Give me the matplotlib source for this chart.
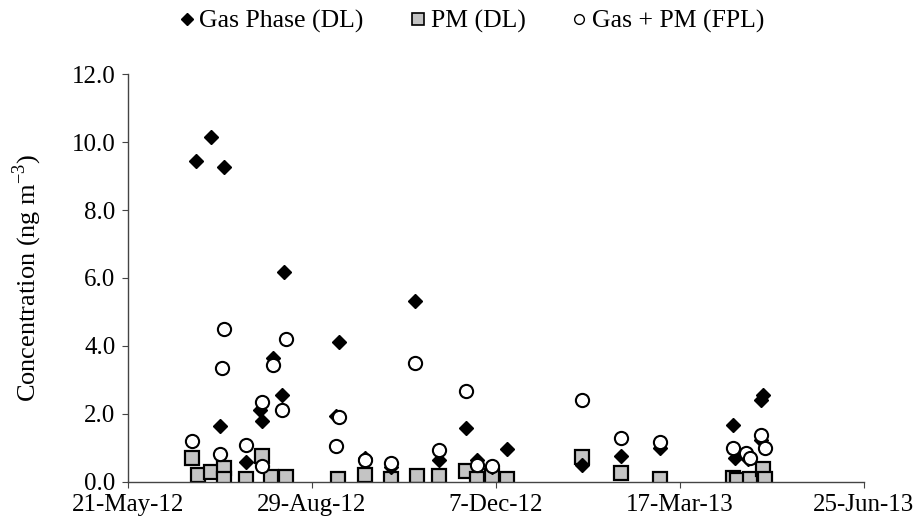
import numpy as np
import pandas as pd
import matplotlib
matplotlib.use('Agg')
import matplotlib.pyplot as plt
import matplotlib.dates as mdates
from matplotlib.ticker import FormatStrFormatter
from matplotlib.lines import Line2D

plt.rcParams.update({
    'font.family': ['Liberation Serif', 'DejaVu Serif'],
    'font.size': 18,
    'mathtext.fontset': 'custom',
    'mathtext.rm': 'Liberation Serif',
})

START = pd.Timestamp('2012-05-21')

# sampling day (days after 21-May-12) and concentration, ng m-3
GAS_DAY = [37, 45, 52, 50, 64, 72, 73, 79, 84, 85, 113, 115, 129, 143, 156,
           169, 184, 190, 198, 206, 247, 268, 289, 329, 330, 337, 344, 344, 345]
GAS_VAL = [9.45, 10.15, 9.28, 1.65, 0.60, 2.12, 1.78, 3.64, 2.56, 6.19, 1.94,
           4.13, 0.70, 0.45, 5.33, 0.65, 1.60, 0.65, 0.45, 0.97, 0.50, 0.75,
           1.00, 1.66, 0.70, 0.68, 1.24, 2.40, 2.55]

PM_DAY = [35, 38, 45, 52, 52, 64, 73, 78, 86, 114, 129, 143, 157, 169, 184,
          190, 198, 206, 247, 268, 289, 329, 331, 338, 345, 346]
PM_VAL = [0.70, 0.20, 0.28, 0.40, 0.10, 0.10, 0.75, 0.15, 0.15, 0.10, 0.20,
          0.09, 0.18, 0.18, 0.32, 0.10, 0.16, 0.10, 0.74, 0.27, 0.10, 0.12,
          0.05, 0.10, 0.37, 0.10]

TOT_DAY = [35, 50, 51, 52, 64, 73, 73, 79, 84, 86, 113, 115, 129, 143, 156,
           169, 184, 190, 198, 247, 268, 289, 329, 336, 338, 344, 346]
TOT_VAL = [1.19, 0.82, 3.35, 4.49, 1.09, 0.47, 2.36, 3.44, 2.12, 4.20, 1.06,
           1.92, 0.65, 0.55, 3.51, 0.94, 2.68, 0.50, 0.48, 2.41, 1.29, 1.16,
           0.99, 0.85, 0.70, 1.38, 0.99]

def to_dates(days):
    return START + pd.to_timedelta(days, unit='D')

fig = plt.figure(figsize=(9.2, 5.29), dpi=100)
ax = fig.add_axes([0.139, 0.089, 0.800, 0.771])

ax.plot(to_dates(PM_DAY), PM_VAL, ls='none', marker='s', ms=10,
        mfc='#c4c4c4', mec='black', mew=1.6, zorder=2)
ax.plot(to_dates(GAS_DAY), GAS_VAL, ls='none', marker='D', ms=7,
        mfc='black', mec='black', zorder=3)
ax.plot(to_dates(TOT_DAY), TOT_VAL, ls='none', marker='o', ms=9.5,
        mfc='white', mec='black', mew=1.5, zorder=4)

ax.set_xlim(START, START + pd.Timedelta(days=400))
ax.set_xticks([START + pd.Timedelta(days=d) for d in range(0, 401, 100)])
ax.xaxis.set_major_formatter(mdates.DateFormatter('%-d-%b-%y'))
ax.set_ylim(0, 12)
ax.set_yticks(np.arange(0, 12.1, 2))
ax.yaxis.set_major_formatter(FormatStrFormatter('%.1f'))
ax.set_ylabel(r'Concentration (ng m$^{\mathregular{-3}}$)', fontsize=19, labelpad=20)

for s in ['top', 'right']:
    ax.spines[s].set_visible(False)
for s in ['left', 'bottom']:
    ax.spines[s].set_color('#444444')
    ax.spines[s].set_linewidth(1.0)
ax.tick_params(direction='out', length=4, color='#444444', labelsize=18, pad=5)

handles = [
    Line2D([], [], ls='none', marker='D', ms=6, mfc='black', mec='black'),
    Line2D([], [], ls='none', marker='s', ms=8, mfc='#c4c4c4', mec='black', mew=1.2),
    Line2D([], [], ls='none', marker='o', ms=7, mfc='white', mec='black', mew=1.0),
]
fig.legend(handles, ['Gas Phase (DL)', 'PM (DL)', 'Gas + PM (FPL)'],
           loc='upper center', bbox_to_anchor=(0.51, 1.025), ncol=3,
           frameon=False, fontsize=18.5, handletextpad=0.0, columnspacing=1.6,
           handlelength=1.0)

fig.savefig('out.png', dpi=100, facecolor='white')
